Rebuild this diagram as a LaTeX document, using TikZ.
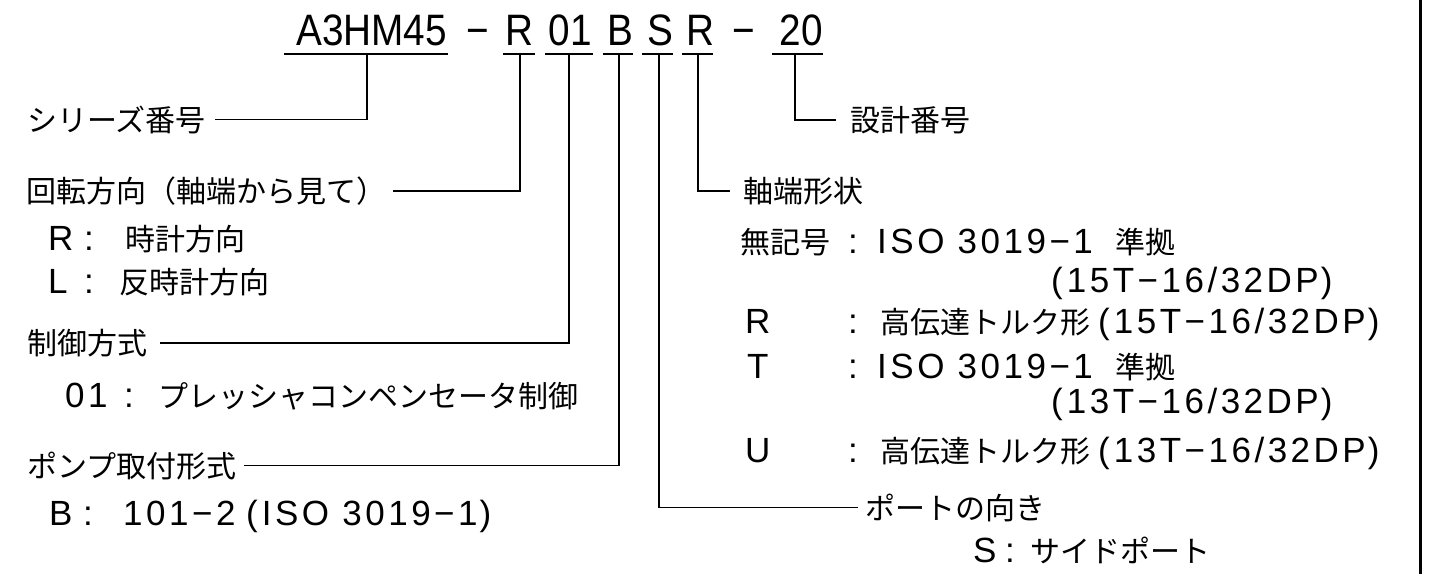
\documentclass[tikz,border=0pt]{standalone}
\usepackage{fontspec}
\setmainfont{Liberation Sans}
\newfontfamily\jpf{Noto Sans CJK JP}
\newfontfamily\ltf[LetterSpace=10]{Liberation Sans}
\newfontfamily\ttlf[FakeStretch=0.88]{Liberation Sans}
\newcommand\pgr[1]{(\kern4pt#1\kern2pt)}
\begin{document}
\begin{tikzpicture}[x=1pt,y=-1pt,
  jp/.style={font=\jpf\fontsize{30}{36}\selectfont, inner sep=0pt, anchor=base west},
  lt/.style={font=\ltf\fontsize{35}{42}\selectfont, inner sep=0pt, anchor=base west},
  ttl/.style={font=\ttlf\fontsize{44}{52}\selectfont, inner sep=0pt, anchor=base},
  wire/.style={line width=1.8pt},
  uline/.style={line width=1.8pt},
  border/.style={line width=3pt}]
\fill[white] (0,0) rectangle (1449,574);
\useasboundingbox (0,0) rectangle (1449,574);

% title
\node[ttl] (tA)  at (371.5,45) {A3HM45};
\node[ttl] (tD1) at (478,45) {−};
\node[ttl] (tR)  at (519,45) {R};
\node[ttl] (t01) at (570,45) {01};
\node[ttl] (tB)  at (620,45) {B};
\node[ttl] (tS)  at (660,45) {S};
\node[ttl] (tR2) at (700,45) {R};
\node[ttl] (tD2) at (744,45) {−};
\node[ttl] (t20) at (801,45) {20};

% underlines
\draw[uline] (284,54) -- (448,54);
\draw[uline] (503,54) -- (535,54);
\draw[uline] (545,54) -- (593,54);
\draw[uline] (603,54) -- (633,54);
\draw[uline] (642,54) -- (673,54);
\draw[uline] (682,54) -- (713,54);
\draw[uline] (772,54) -- (823,54);
\coordinate (uA)  at (367,54);
\coordinate (uR)  at (520,54);
\coordinate (u01) at (569,54);
\coordinate (uB)  at (619,54);
\coordinate (uS)  at (659,54);
\coordinate (uR2) at (698,54);
\coordinate (u20) at (795,54);

% left column
\node[jp] (lSeries) at (27,131) {シリーズ番号};
\node[jp] (lRot) at (26,202) {回転方向（軸端から見て）};
\node[lt] (lRk) at (48,250) {R};
\node[lt] (lRc) at (84,250) {:};
\node[jp] (lRv) at (125,250) {時計方向};
\node[lt] (lLk) at (48,293) {L};
\node[lt] (lLc) at (84,293) {:};
\node[jp] (lLv) at (119,293) {反時計方向};
\node[jp] (lCtl) at (27,354) {制御方式};
\node[lt] (l01k) at (65,407) {01};
\node[lt] (l01c) at (124,407) {:};
\node[jp] (l01v) at (158,407) {プレッシャコンペンセータ制御};
\node[jp] (lMount) at (27,477) {ポンプ取付形式};
\node[lt] (lBk) at (49,525) {B};
\node[lt] (lBc) at (83,525) {:};
\node[lt] (lBv) at (123,525) {101−2};
\node[lt] (lBiso) at (246,525) {\pgr{ISO 3019−1}};

% right column
\node[jp] (lDesign) at (850,131) {設計番号};
\node[jp] (lShaft) at (743,202) {軸端形状};
\node[jp] (sN)  at (740,253) {無記号};
\node[lt] (sNc) at (848,253) {:};
\node[lt] (sNv) at (877,253) {ISO 3019−1};
\node[jp] (sNj) at (1115,253) {準拠};
\node[lt] (sNp) at (1051,292) {\pgr{15T−16/32DP}};
\node[lt] (sRk) at (745,333) {R};
\node[lt] (sRc) at (848,333) {:};
\node[jp] (sRj) at (880,333) {高伝達トルク形};
\node[lt] (sRp) at (1098,333) {\pgr{15T−16/32DP}};
\node[lt] (sTk) at (747,378) {T};
\node[lt] (sTc) at (848,378) {:};
\node[lt] (sTv) at (877,378) {ISO 3019−1};
\node[jp] (sTj) at (1115,378) {準拠};
\node[lt] (sTp) at (1051,413) {\pgr{13T−16/32DP}};
\node[lt] (sUk) at (745,462) {U};
\node[lt] (sUc) at (848,462) {:};
\node[jp] (sUj) at (880,462) {高伝達トルク形};
\node[lt] (sUp) at (1098,462) {\pgr{13T−16/32DP}};
\node[jp] (lPort) at (865,519) {ポートの向き};
\node[lt] (pSk) at (973,562) {S};
\node[lt] (pSc) at (1005,562) {:};
\node[jp] (pSv) at (1030,562) {サイドポート};

% connectors
\draw[wire] (uA)  |- ([xshift=9pt]lSeries.east);
\draw[wire] (uR)  |- ([xshift=7pt]lRot.east);
\draw[wire] (u01) |- ([xshift=13pt]lCtl.east);
\draw[wire] (uB)  |- ([xshift=7pt]lMount.east);
\draw[wire] (uS)  |- ([xshift=-7pt]lPort.west);
\draw[wire] (uR2) |- ([xshift=-13pt]lShaft.west);
\draw[wire] (u20) |- ([xshift=-14pt]lDesign.west);

% frame edge
\draw[border] (1420,0) -- (1420,574);
\end{tikzpicture}
\end{document}
